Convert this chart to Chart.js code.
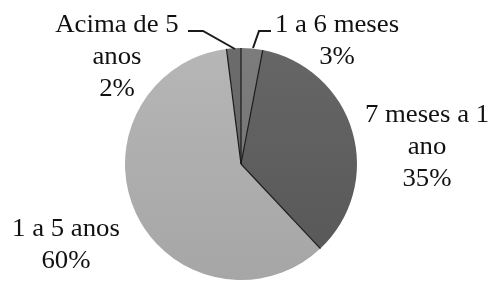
<!DOCTYPE html>
<html><head><meta charset="utf-8">
<script src="https://cdn.jsdelivr.net/npm/chart.js@4"></script>
<style>html,body{margin:0;padding:0;background:#fff;}#w{width:492px;height:281px;}
#pre{font-family:"Liberation Serif";position:absolute;left:-999px;top:0;}</style>
</head><body><span id="pre">1 a 5 anos 60%</span><div id="w"><canvas id="c"></canvas></div>
<script>
const categories = ["1 a 6 meses", "7 meses a 1 ano", "1 a 5 anos", "Acima de 5 anos"];
const values = [3, 35, 60, 2];
const labelLines = [["1 a 6 meses", "3%"], ["7 meses a 1", "ano", "35%"], ["1 a 5 anos", "60%"], ["Acima de 5", "anos", "2%"]];
const sliceColors = [["#7c7c7c", "#727272"], ["#666666", "#575757"], ["#b6b6b6", "#a6a6a6"], ["#6c6c6c", "#626262"]];

const labelPos = [
  {x: 337, y: 32}, {x: 427, y: 122}, {x: 66, y: 236}, {x: 117, y: 32}
];
const leaders = [
  [[271, 31], [259, 31], [253, 48]],
  null, null,
  [[188, 31], [203, 31], [235, 49]]
];

const decor = {
  id: 'decor',
  afterDatasetsDraw(chart) {
    const ctx = chart.ctx;
    const meta = chart.getDatasetMeta(0);
    ctx.save();
    ctx.strokeStyle = '#1a1a1a';
    ctx.lineWidth = 1.2;
    meta.data.forEach(a => {
      ctx.beginPath();
      ctx.moveTo(a.x, a.y);
      ctx.lineTo(a.x + Math.cos(a.startAngle) * a.outerRadius, a.y + Math.sin(a.startAngle) * a.outerRadius);
      ctx.stroke();
    });
    ctx.lineWidth = 2;
    leaders.forEach(l => {
      if (!l) return;
      ctx.beginPath();
      ctx.moveTo(l[0][0], l[0][1]);
      for (let i = 1; i < l.length; i++) ctx.lineTo(l[i][0], l[i][1]);
      ctx.stroke();
    });
    ctx.fillStyle = '#111';
    ctx.font = '26px "Liberation Serif"';
    ctx.textAlign = 'center';
    ctx.textBaseline = 'alphabetic';
    labelLines.forEach((lines, i) => {
      const p = labelPos[i];
      const lh = 32;
      lines.forEach((t, j) => {
        ctx.save();
        ctx.translate(p.x, p.y + j * lh);
        ctx.scale(1.03, 1);
        ctx.fillText(t, 0, 0);
        ctx.restore();
      });
    });
    ctx.restore();
  }
};

function build() {
  new Chart(document.getElementById('c'), {
    type: 'pie',
    data: {
      labels: categories,
      datasets: [{
        data: values,
        backgroundColor: (c) => {
          const chart = c.chart;
          const area = chart.chartArea;
          const cols = sliceColors[c.dataIndex];
          if (!area) return cols[0];
          const g = chart.ctx.createLinearGradient(0, area.top, 0, area.bottom);
          g.addColorStop(0, cols[0]);
          g.addColorStop(1, cols[1]);
          return g;
        },
        borderWidth: 0
      }]
    },
    options: {
      responsive: true,
      maintainAspectRatio: false,
      animation: false,
      layout: {padding: {top: 48, bottom: 1, left: 0, right: 10}},
      plugins: {legend: {display: false}, tooltip: {enabled: false}}
    },
    plugins: [decor]
  });
}
if (document.fonts && document.fonts.load) {
  document.fonts.load('26px "Liberation Serif"').then(build, build);
} else build();
</script>
</body></html>
